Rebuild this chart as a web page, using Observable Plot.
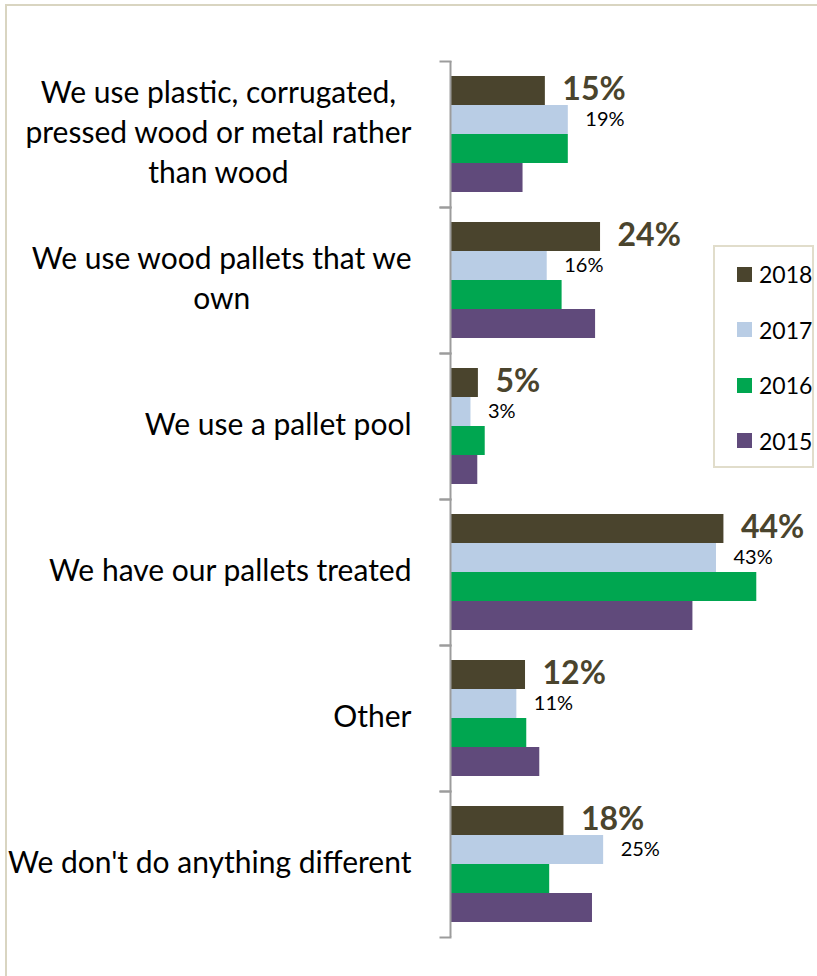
<!DOCTYPE html>
<html><head><meta charset="utf-8">
<script src="https://cdn.jsdelivr.net/npm/d3@7"></script>
<script src="https://cdn.jsdelivr.net/npm/@observablehq/plot@0.6"></script>
<style>
body{margin:0;background:#fff;}
#wrap{position:relative;width:817px;height:976px;overflow:hidden;font-family:Lato, sans-serif;}
#border{position:absolute;left:5px;top:4px;width:900px;height:1100px;border-left:2px solid #d9d5c1;border-top:2px solid #d9d5c1;}
#chart{position:absolute;left:0;top:0;}
#legend{position:absolute;left:713px;top:245px;width:101px;height:223px;border:2px solid #e1ddcb;box-sizing:border-box;background:#fff;}
.lrow{position:absolute;left:0;height:20px;display:flex;align-items:center;font-size:23px;color:#000;}
.lsw{width:15px;height:15px;margin-left:22px;margin-right:7px;}
</style></head>
<body><div id="wrap"><div id="border"></div><div id="chart"></div><div id="legend"></div></div>
<script>
const categories = ["plastic","ownwood","pool","treated","other","nothing"];
const categoryLabels = [
  "We use plastic, corrugated,\npressed wood or metal rather\nthan wood",
  "We use wood pallets that we\nown",
  "We use a pallet pool",
  "We have our pallets treated",
  "Other",
  "We don't do anything different"
];
const years = ["2018","2017","2016","2015"];
const colors = ["#4a442d","#b9cde5","#00a650","#604a7b"];
const values2018 = [15.3, 24.2, 4.5, 44.1, 12.1, 18.3];
const values2017 = [19.0, 15.6, 3.3, 42.9, 10.7, 24.7];
const values2016 = [19.0, 18.0, 5.6, 49.4, 12.3, 16.0];
const values2015 = [11.7, 23.4, 4.4, 39.1, 14.4, 22.9];

const series = [values2018, values2017, values2016, values2015];
const data = categories.flatMap((c, i) => years.map((y, j) => ({category: c, year: y, value: series[j][i]})));
const labelOf = Object.fromEntries(categories.map((c, i) => [c, categoryLabels[i]]));
const axisGray = "#9c9c9c";

const plot = Plot.plot({
  width: 817, height: 976,
  marginLeft: 450, marginRight: 57, marginTop: 58, marginBottom: 37,
  x: {domain: [0, 50], axis: null},
  y: {domain: years, axis: null, paddingInner: 0, paddingOuter: 0.5},
  fy: {domain: categories, axis: null, padding: 0},
  color: {domain: years, range: colors},
  style: {fontFamily: "Lato, sans-serif", background: "transparent"},
  marks: [
    Plot.barX(data, {x: "value", y: "year", fy: "category", fill: "year"}),
    Plot.text(data.filter(d => d.year === "2018"), {x: "value", y: "year", fy: "category", text: d => Math.round(d.value) + "%", dx: 17, dy: -1, textAnchor: "start", fontSize: 32, fontWeight: "bold", fill: colors[0]}),
    Plot.text(data.filter(d => d.year === "2017"), {x: "value", y: "year", fy: "category", text: d => Math.round(d.value) + "%", dx: 17, textAnchor: "start", fontSize: 20, fill: "#000"}),
    Plot.text(categories, {fy: d => d, text: d => labelOf[d], frameAnchor: "left", dx: -39, dy: -4, textAnchor: "end", fontSize: 30, lineHeight: 1.33, fill: "#000", className: "catlabel"}),
    Plot.ruleX([0], {stroke: axisGray, strokeWidth: 2}),
    Plot.frame({anchor: "top", stroke: axisGray, strokeWidth: 2, insetLeft: -10, insetRight: 310}),
    Plot.frame({anchor: "bottom", stroke: axisGray, strokeWidth: 2, insetLeft: -10, insetRight: 310})
  ]
});
document.getElementById("chart").appendChild(plot);

// center multi-line category labels within their right-aligned block
plot.querySelectorAll("g.catlabel text").forEach(t => {
  const spans = t.querySelectorAll("tspan");
  if (spans.length > 1) {
    const w = t.getBBox().width;
    t.setAttribute("text-anchor", "middle");
    spans.forEach(s => s.setAttribute("x", -w / 2));
  }
});

// legend
const legend = d3.select("#legend");
const rowTops = [17, 72.5, 128, 183.5];
years.forEach((y, i) => {
  const row = legend.append("div").attr("class", "lrow").style("top", rowTops[i] + "px");
  row.append("div").attr("class", "lsw").style("background", colors[i]);
  row.append("span").text(y);
});
</script>
</body></html>
